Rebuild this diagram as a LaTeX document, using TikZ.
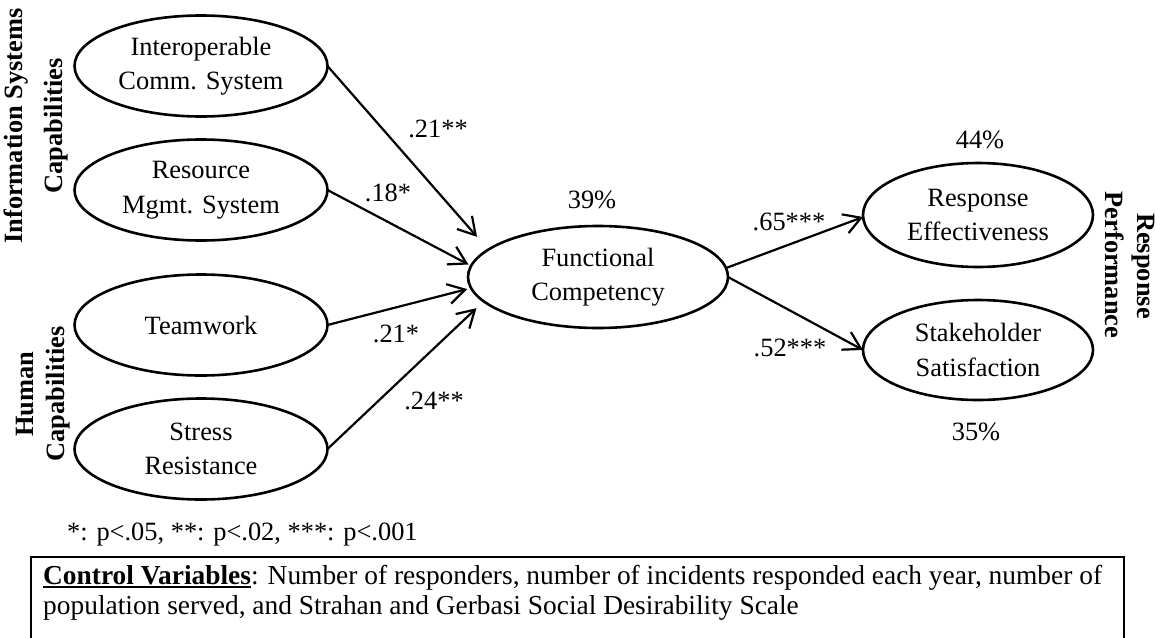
\documentclass[tikz,border=0pt]{standalone}
\usepackage{fontspec}
\setmainfont{Liberation Serif}
\usetikzlibrary{arrows.meta,shapes.geometric}
\newlength\ulwidth
\newcommand\boldul[1]{\settowidth\ulwidth{\textbf{#1}}\textbf{#1}\llap{\rule[-4pt]{\ulwidth}{2pt}}}
\begin{document}
\begin{tikzpicture}[x=1pt,y=-1pt,
  txt/.style={font=\fontsize{26.4pt}{34.5pt}\selectfont},
  latent/.style={ellipse, draw, line width=2.6pt, inner sep=0pt, outer sep=0pt, align=center,
    minimum width=253pt, minimum height=101pt, txt},
  arr/.style={line width=2.2pt, -{Straight Barb[length=17pt,width=20pt]}},
  coef/.style={txt, anchor=base, inner sep=0pt},
  grp/.style={font=\fontsize{26.4pt}{34.5pt}\selectfont\bfseries, anchor=base, inner sep=0pt}]
\useasboundingbox (0,0) rectangle (1156,637);

% latent variables
\node[latent] (e1) at (201,66) {Interoperable\\Comm. System};
\node[latent] (e2) at (201,190) {Resource\\Mgmt. System};
\node[latent] (e3) at (201,325) {Teamwork};
\node[latent] (e4) at (201,449) {Stress\\Resistance};
\node[latent, minimum width=260pt, minimum height=102pt] (func) at (598,277) {Functional\\Competency};
\node[latent, minimum width=230pt, minimum height=104pt] (resp) at (978,215) {Response\\Effectiveness};
\node[latent, minimum width=230pt, minimum height=100pt] (stake) at (978,350) {Stakeholder\\Satisfaction};

% group labels
\node[grp, rotate=90] (is1) at (23,126) {Information Systems};
\node[grp, rotate=90] (is2) at (62,126) {Capabilities};
\node[grp, rotate=90] (hc1) at (33,394) {Human};
\node[grp, rotate=90] (hc2) at (64,394) {Capabilities};
\node[grp, rotate=-90] (rp1) at (1137,266) {Response};
\node[grp, rotate=-90] (rp2) at (1105,265) {Performance};

% paths
\draw[arr, shorten >=17pt] (e1.east) -- (func.166);
\draw[arr, shorten >=3pt] (e2.east) -- (func.175.3);
\draw[arr, shorten >=4pt] (e3.east) -- (func.185.9);
\draw[arr, shorten >=10pt] (e4.east) -- (func.192.4);
\draw[arr] (func.4.5) -- (resp.181);
\draw[arr] (func.east) -- (stake.west);

% coefficients
\node[coef] (c1) at (438,137) {.21**};
\node[coef] (c2) at (388,201) {.18*};
\node[coef] (c3) at (396,342) {.21*};
\node[coef] (c4) at (434,409) {.24**};
\node[coef] (c5) at (789,230) {.65***};
\node[coef] (c6) at (790,356) {.52***};
\node[coef] (r1) at (592,208) {39\%};
\node[coef] (r2) at (980,148) {44\%};
\node[coef] (r3) at (976,440) {35\%};

% legend
\node[txt, anchor=base west, inner sep=0pt] (sig) at (67,540) {*: p<.05, **: p<.02, ***: p<.001};

\node[draw, line width=2.2pt, anchor=north west, minimum width=1093pt, minimum height=110pt, inner sep=0pt] (ctrlbox) at (30,556) {};
\node[anchor=base west, align=left, inner sep=0pt, font=\fontsize{27.4pt}{30pt}\selectfont] (ctrltext) at (43,614)
  {\boldul{Control Variables}: Number of responders, number of incidents responded each year, number of\\population served, and Strahan and Gerbasi Social Desirability Scale};
\end{tikzpicture}
\end{document}
